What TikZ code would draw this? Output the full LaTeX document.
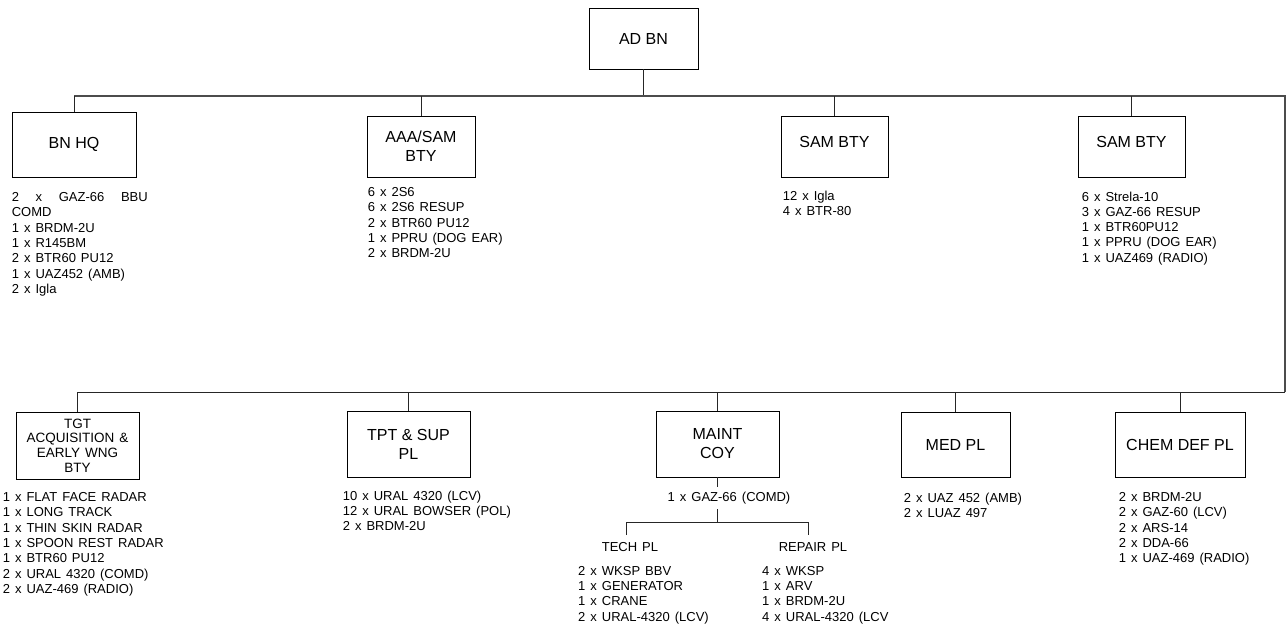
\documentclass[tikz,border=0pt]{standalone}
\usepackage{fontspec}
\setmainfont{Liberation Sans}
\usetikzlibrary{positioning}
\newcommand\unitfont{\fontsize{16}{19}\selectfont}
\newcommand\smallunitfont{\fontsize{13.5}{14.7}\selectfont\spaceskip=5pt plus 2pt}
\newcommand\kitfont{\fontsize{13}{15.3}\selectfont\spaceskip=5pt plus 2pt minus 1pt}
\tikzset{
    unit/.style={rectangle, draw, line width=0.8pt, inner sep=0pt, align=center, font=\unitfont},
    kit/.style={inner sep=0pt, align=left, font=\kitfont},
    sublabel/.style={inner sep=7pt, font=\kitfont},
    link/.style={line width=0.9pt, draw=black!85},
    bus/.style={line width=1.4pt, draw=black!70},
}
\begin{document}
\begin{tikzpicture}[x=1pt, y=-1pt]
    \useasboundingbox (0,0) rectangle (1286,627);

    % top level
    \node[unit, minimum width=109pt, minimum height=61pt] (adbn) at (643.5,38.5) {AD BN};
    \coordinate (ne) at (1285,96);
    \coordinate (se) at (1285,392);

    % first row
    \node[unit, minimum width=124pt, minimum height=65pt] (bnhq) at (74,144.5) {BN HQ};
    \node[unit, minimum width=108pt, minimum height=61pt] (aaa) at (421,146.5) {AAA/SAM\\BTY};
    \node[unit, minimum width=107pt, minimum height=61pt, text depth=9pt] (sama) at (834.5,146.5) {SAM BTY};
    \node[unit, minimum width=107pt, minimum height=61pt, text depth=9pt] (samb) at (1131.5,146.5) {SAM BTY};

    \node[kit, below=15pt of bnhq.south west, anchor=north west] (bnhqkit) {\hbox to 136pt{2\hfill x\hfill GAZ-66\hfill BBU}\\COMD\\1 x BRDM-2U\\1 x R145BM\\2 x BTR60 PU12\\1 x UAZ452 (AMB)\\2 x Igla};
    \node[kit, below=10pt of aaa.south west, anchor=north west, xshift=1pt] (aaakit) {6 x 2S6\\6 x 2S6 RESUP\\2 x BTR60 PU12\\1 x PPRU (DOG EAR)\\2 x BRDM-2U};
    \node[kit, below=13pt of sama.south west, anchor=north west, xshift=2pt] (samakit) {12 x Igla\\4 x BTR-80};
    \node[kit, below=14pt of samb.south west, anchor=north west, xshift=4pt] (sambkit) {6 x Strela-10\\3 x GAZ-66 RESUP\\1 x BTR60PU12\\1 x PPRU (DOG EAR)\\1 x UAZ469 (RADIO)};

    % second row
    \node[unit, minimum width=123pt, minimum height=67pt, font=\smallunitfont] (tgt) at (77.5,445.5) {TGT\\ACQUISITION \&\\EARLY WNG\\BTY};
    \node[unit, minimum width=123pt, minimum height=66pt] (tpt) at (408.5,444) {TPT \& SUP\\PL};
    \node[unit, minimum width=123pt, minimum height=66pt] (maint) at (717.5,444) {MAINT\\COY};
    \node[unit, minimum width=109pt, minimum height=65pt] (med) at (955.5,444.5) {MED PL};
    \node[unit, minimum width=130pt, minimum height=65pt] (chem) at (1180,444.5) {CHEM DEF PL};

    \node[kit, below=13pt of tgt.south west, anchor=north west, xshift=-13pt] (tgtkit) {1 x FLAT FACE RADAR\\1 x LONG TRACK\\1 x THIN SKIN RADAR\\1 x SPOON REST RADAR\\1 x BTR60 PU12\\2 x URAL 4320 (COMD)\\2 x UAZ-469 (RADIO)};
    \node[kit, below=13pt of tpt.south west, anchor=north west, xshift=-4pt] (tptkit) {10 x URAL 4320 (LCV)\\12 x URAL BOWSER (POL)\\2 x BRDM-2U};
    \node[kit, below=15pt of med.south west, anchor=north west, xshift=3pt] (medkit) {2 x UAZ 452 (AMB)\\2 x LUAZ 497};
    \node[kit, below=15pt of chem.south west, anchor=north west, xshift=4pt] (chemkit) {2 x BRDM-2U\\2 x GAZ-60 (LCV)\\2 x ARS-14\\2 x DDA-66\\1 x UAZ-469 (RADIO)};

    % maint coy breakdown
    \node[font=\kitfont, inner sep=5pt] (maintcmd) at (729,498) {1 x GAZ-66 (COMD)};
    \coordinate (subl) at (626,522);
    \coordinate (subr) at (808,522);
    \node[sublabel] (techpl) at (630,547) {TECH PL};
    \node[sublabel] (reppl) at (813,547) {REPAIR PL};
    \node[kit, anchor=north west] (techkit) at (578,566) {2 x WKSP BBV\\1 x GENERATOR\\1 x CRANE\\2 x URAL-4320 (LCV)};
    \node[kit, anchor=north west] (repkit) at (762,566) {4 x WKSP\\1 x ARV\\1 x BRDM-2U\\4 x URAL-4320 (LCV};

    % connectors
    \draw[link] (adbn.south) -- (adbn.south |- ne);
    \draw[bus] (bnhq.north |- ne) -- (ne) -- (se);
    \draw[link] (se) -- (tgt.north |- se);
    \foreach \n in {bnhq, aaa, sama, samb} \draw[link] (\n.north) -- (\n.north |- ne);
    \foreach \n in {tgt, tpt, maint, med, chem} \draw[link] (\n.north) -- (\n.north |- se);
    \draw[link] (maint.south) -- (maint.south |- maintcmd.north);
    \draw[link] (maint.south |- maintcmd.south) -- (maint.south |- subl);
    \draw[link] (techpl.north -| subl) -- (subl) -- (subr) -- (reppl.north -| subr);
\end{tikzpicture}
\end{document}
